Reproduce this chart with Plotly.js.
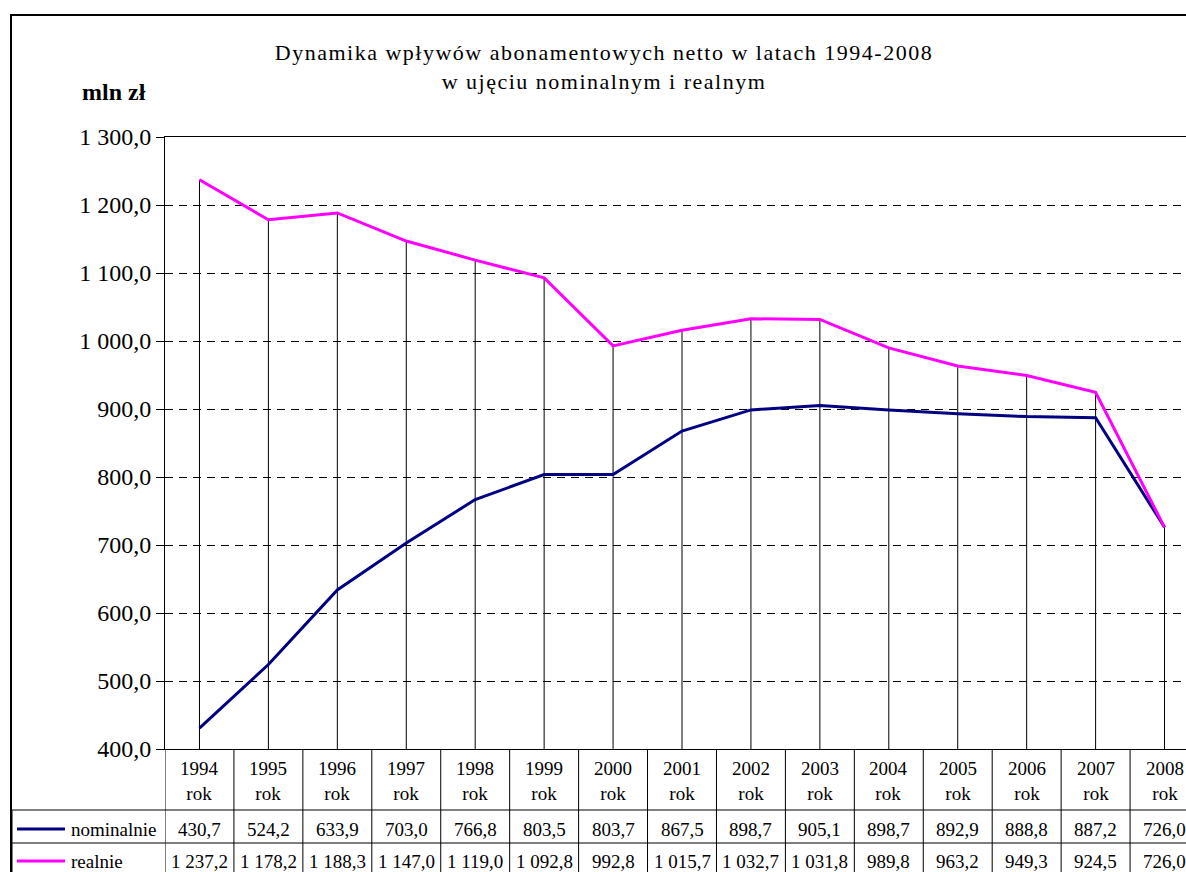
<!DOCTYPE html>
<html>
<head>
<meta charset="utf-8">
<script src="https://cdn.plot.ly/plotly-3.0.1.min.js"></script>
<style>
  body { margin: 0; overflow: hidden; background: #fff; }
  #chart { width: 1220px; height: 872px; }
  #chart .gtitle { letter-spacing: 1.5px; }
</style>
</head>
<body>
<div id="chart"></div>
<script>
let years = ['1994', '1995', '1996', '1997', '1998', '1999', '2000', '2001',
             '2002', '2003', '2004', '2005', '2006', '2007', '2008']
let nominalnie = [430.7, 524.2, 633.9, 703.0, 766.8, 803.5, 803.7, 867.5,
                  898.7, 905.1, 898.7, 892.9, 888.8, 887.2, 726.0]
let realnie = [1237.2, 1178.2, 1188.3, 1147.0, 1119.0, 1092.8, 992.8, 1015.7,
               1032.7, 1031.8, 989.8, 963.2, 949.3, 924.5, 726.0]
let seriesNames = ['nominalnie', 'realnie']
let seriesColors = ['#000080', '#ff00ff']

// plot area in pixels: left 165, top 137, width 1034, height 612
let W = 1220, H = 872, L = 165, T = 137, PW = 1034, PH = 612
let px = x => (x - L) / PW
let py = y => (T + PH - y) / PH

let serif = "'Liberation Serif', 'Times New Roman', serif"

function plFmt(v) {
    let parts = v.toFixed(1).split('.')
    return parts[0].replace(/\B(?=(\d{3})+(?!\d))/g, ' ') + ',' + parts[1]
}

let trace1 = {
    x: years, y: nominalnie, type: 'scatter', mode: 'lines',
    line: {color: seriesColors[0], width: 3}, name: seriesNames[0]
}
let trace2 = {
    x: years, y: realnie, type: 'scatter', mode: 'lines',
    line: {color: seriesColors[1], width: 3}, name: seriesNames[1]
}

let shapes = []
let annotations = []
let black = {color: '#000', width: 1}

// drop lines
years.forEach((yr, i) => {
    shapes.push({type: 'line', xref: 'x', yref: 'y', layer: 'below',
        x0: i, x1: i, y0: 400, y1: Math.max(nominalnie[i], realnie[i]), line: black})
})

// outer frame
shapes.push({type: 'rect', xref: 'paper', yref: 'paper',
    x0: px(11), x1: px(1250), y0: py(15), y1: py(900), line: {color: '#000', width: 2}})

// data table grid
for (let k = 0; k <= years.length; k++) {
    shapes.push({type: 'line', xref: 'x', yref: 'paper',
        x0: k - 0.5, x1: k - 0.5, y0: 0, y1: py(900), line: black})
}
shapes.push({type: 'line', xref: 'paper', yref: 'paper',
    x0: px(12), x1: px(1250), y0: py(810), y1: py(810), line: black})
shapes.push({type: 'line', xref: 'paper', yref: 'paper',
    x0: px(12), x1: px(1250), y0: py(843), y1: py(843), line: black})
shapes.push({type: 'line', xref: 'paper', yref: 'paper',
    x0: px(12), x1: px(12), y0: py(810), y1: py(900), line: black})

let cellFont = {family: serif, size: 19, color: '#000'}

// header cells
years.forEach((yr, i) => {
    annotations.push({xref: 'x', yref: 'paper', x: i, y: py(781), yanchor: 'middle',
        text: yr + '<br>rok', showarrow: false, font: cellFont})
})

// value rows with legend keys
let rowY = [829, 861]
;[nominalnie, realnie].forEach((vals, r) => {
    shapes.push({type: 'line', xref: 'paper', yref: 'paper',
        x0: px(17), x1: px(65), y0: py(rowY[r]), y1: py(rowY[r]),
        line: {color: seriesColors[r], width: 3}})
    annotations.push({xref: 'paper', yref: 'paper', x: px(69), y: py(rowY[r]),
        xanchor: 'left', yanchor: 'middle', text: seriesNames[r], showarrow: false,
        font: cellFont})
    vals.forEach((v, i) => {
        annotations.push({xref: 'x', yref: 'paper', x: i, y: py(rowY[r]), yanchor: 'middle',
            text: plFmt(v), showarrow: false, font: cellFont})
    })
})

annotations.push({xref: 'paper', yref: 'paper', x: px(114), y: py(92),
    xanchor: 'center', yanchor: 'middle',
    text: '<b>mln zł</b>', showarrow: false, font: {family: serif, size: 24, color: '#000'}})

let layout = {
    width: W, height: H,
    margin: {l: L, r: W - L - PW, t: T, b: H - T - PH},
    paper_bgcolor: '#fff', plot_bgcolor: '#fff',
    showlegend: false, hovermode: false,
    separators: ', ',
    title: {
        text: 'Dynamika wpływów abonamentowych netto w latach 1994-2008<br>w ujęciu nominalnym i realnym',
        xref: 'container', yref: 'container', x: 604 / W, y: 1 - 60 / H,
        xanchor: 'center', yanchor: 'middle',
        font: {family: serif, size: 22, color: '#000'}
    },
    xaxis: {
        type: 'category', range: [-0.5, 14.5], showticklabels: false, ticks: '',
        showgrid: false, showline: true, mirror: true, linecolor: '#000', linewidth: 1,
        zeroline: false
    },
    yaxis: {
        range: [400, 1300], dtick: 100, tickformat: ',.1f',
        ticks: 'outside', ticklen: 8, tickcolor: '#000',
        showline: true, linecolor: '#000', linewidth: 1,
        showgrid: true, gridcolor: '#000', gridwidth: 1, griddash: '8px,6px',
        zeroline: false,
        tickfont: {family: serif, size: 24, color: '#000'}
    },
    shapes: shapes,
    annotations: annotations
}

Plotly.newPlot('chart', [trace1, trace2], layout, {displayModeBar: false, staticPlot: true})
</script>
</body>
</html>
